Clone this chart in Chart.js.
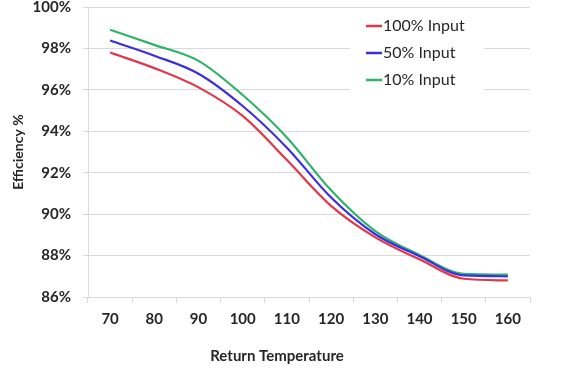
<!DOCTYPE html>
<html>
<head>
<meta charset="utf-8">
<script src="https://cdn.jsdelivr.net/npm/chart.js@4.4.1/dist/chart.umd.min.js"></script>
<style>
  html, body { margin: 0; padding: 0; background: #fff; }
  #wrap { width: 566px; height: 371px; position: relative; }
</style>
</head>
<body>
<div id="wrap"><canvas id="chart" width="566" height="371"></canvas></div>
<script>
// --- data ---
const temperatures = ['70', '80', '90', '100', '110', '120', '130', '140', '150', '160'];
const input100 = [97.80, 97.05, 96.12, 94.74, 92.61, 90.40, 88.88, 87.82, 86.88, 86.80];
const input50  = [98.38, 97.65, 96.78, 95.22, 93.21, 90.80, 89.03, 87.97, 87.04, 87.00];
const input10  = [98.90, 98.17, 97.40, 95.75, 93.70, 91.15, 89.18, 88.03, 87.12, 87.08];
const yTicks = [86, 88, 90, 92, 94, 96, 98, 100];

const seriesNames = ['100% Input', '50% Input', '10% Input'];
const seriesColors = ['#e2364a', '#3b2ee0', '#2fb368'];

const textColor = '#262626';
const gridColor = '#d9d9d9';

// legend box inside the plot, with white background over the gridlines
const boxLegend = {
    id: 'boxLegend',
    beforeDatasetsDraw(chart) {
        const ctx = chart.ctx;
        ctx.save();
        ctx.fillStyle = '#ffffff';
        ctx.fillRect(350, 12, 134, 82);
        ctx.font = '16px Lato';
        ctx.textBaseline = 'middle';
        ctx.textAlign = 'left';
        seriesNames.forEach((name, i) => {
            const y = 26 + i * 27;
            ctx.strokeStyle = seriesColors[i];
            ctx.lineWidth = 2.5;
            ctx.beginPath();
            ctx.moveTo(366, y);
            ctx.lineTo(382, y);
            ctx.stroke();
            ctx.fillStyle = textColor;
            ctx.fillText(name, 383, y);
        });
        ctx.restore();
    }
};

// axis titles placed as in the reference
const axisTitles = {
    id: 'axisTitles',
    afterDraw(chart) {
        const ctx = chart.ctx;
        ctx.save();
        ctx.fillStyle = textColor;
        ctx.font = 'bold 15px Lato';
        ctx.textAlign = 'center';
        ctx.textBaseline = 'middle';
        ctx.fillText('Return Temperature', 277, 356);
        ctx.translate(18, 152);
        ctx.rotate(-Math.PI / 2);
        ctx.font = 'bold 14px Lato';
        ctx.fillText('Efficiency %', 0, 0);
        ctx.restore();
    }
};

const datasets = [input100, input50, input10].map((values, i) => ({
    label: seriesNames[i],
    data: values,
    borderColor: seriesColors[i],
    backgroundColor: seriesColors[i],
    borderWidth: 2.2,
    pointRadius: 0,
    fill: false,
    cubicInterpolationMode: 'monotone'
}));

new Chart(document.getElementById('chart'), {
    type: 'line',
    data: { labels: temperatures, datasets: datasets },
    plugins: [boxLegend, axisTitles],
    options: {
        responsive: false,
        animation: false,
        layout: { padding: { top: 7, right: 36, bottom: 0, left: 0 } },
        plugins: {
            legend: { display: false },
            tooltip: { enabled: false }
        },
        scales: {
            x: {
                type: 'category',
                offset: true,
                afterFit: (s) => { s.height = 74; s.paddingLeft = 0; s.paddingRight = 0; },
                grid: {
                    offset: true,
                    drawOnChartArea: false,
                    drawTicks: true,
                    tickLength: 6,
                    color: gridColor
                },
                border: { color: gridColor },
                ticks: {
                    color: textColor,
                    font: { family: 'Lato', size: 15, weight: 'bold' },
                    padding: 7,
                    maxRotation: 0
                }
            },
            y: {
                min: 86,
                max: 100,
                afterFit: (s) => { s.width = 88; s.paddingTop = 0; s.paddingBottom = 0; },
                afterBuildTicks: (s) => { s.ticks = yTicks.map(v => ({ value: v })); },
                grid: { color: gridColor, tickLength: 5 },
                border: { color: gridColor },
                ticks: {
                    color: textColor,
                    font: { family: 'Lato', size: 15, weight: 'bold', lineHeight: 1 },
                    padding: 12,
                    callback: (v) => v + '%'
                }
            }
        }
    }
});
</script>
</body>
</html>
